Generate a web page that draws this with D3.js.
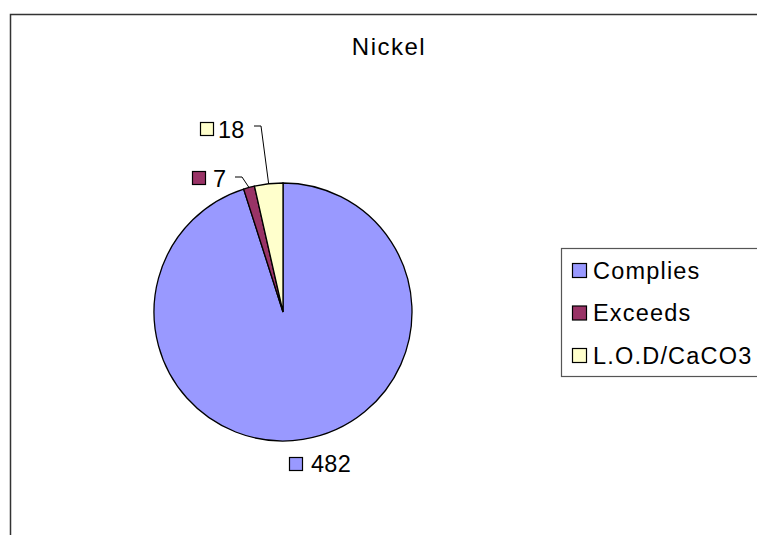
<!DOCTYPE html>
<html><head><meta charset="utf-8">
<script src="https://cdn.jsdelivr.net/npm/d3@7"></script>
<style>body{margin:0;background:#fff}svg{display:block}text{font-family:"Liberation Sans",Arial,sans-serif;fill:#000}</style>
</head><body>
<script>
const title = "Nickel";
const categories = ["Complies", "Exceeds", "L.O.D/CaCO3"];
const values = [482, 7, 18];
const colors = ["#9999FF", "#993366", "#FFFFCC"];

const W = 757, H = 535;
const svg = d3.select("body").append("svg").attr("width", W).attr("height", H);

svg.append("rect").attr("x", 10.5).attr("y", 14.5).attr("width", W + 10).attr("height", H + 10)
  .attr("fill", "#fff").attr("stroke", "#333").attr("stroke-width", 1.5);

svg.append("text").attr("x", 389).attr("y", 55).attr("text-anchor", "middle")
  .attr("font-size", 24).attr("letter-spacing", 1.5).text(title);

const cx = 283, cy = 312, r = 129;
const pie = d3.pie().sort(null).value(d => d)(values);
const arc = d3.arc().innerRadius(0).outerRadius(r);
const g = svg.append("g").attr("transform", `translate(${cx},${cy})`);
g.selectAll("path").data(pie).join("path")
  .attr("d", arc).attr("fill", (d, i) => colors[i])
  .attr("stroke", "#000").attr("stroke-width", 1.3);

// data labels
const labelPos = [
  {sx: 289, sy: 457, tx: 311, ty: 472, leader: null},
  {sx: 192, sy: 171, tx: 213, ty: 187, leader: [235, 177, 242, 177]},
  {sx: 200, sy: 122, tx: 218, ty: 138, leader: [254, 126, 261, 126]}
];
pie.forEach((d, i) => {
  const p = labelPos[i];
  svg.append("rect").attr("x", p.sx + 0.5).attr("y", p.sy + 0.5).attr("width", 13).attr("height", 13)
    .attr("fill", colors[i]).attr("stroke", "#000").attr("stroke-width", 1.2);
  svg.append("text").attr("x", p.tx).attr("y", p.ty).attr("font-size", 23.5).attr("letter-spacing", 0.3).text(values[i]);
  if (p.leader) {
    const mid = (d.startAngle + d.endAngle) / 2;
    const ex = cx + r * Math.sin(mid), ey = cy - r * Math.cos(mid);
    svg.append("polyline")
      .attr("points", `${p.leader[0]},${p.leader[1]} ${p.leader[2]},${p.leader[3]} ${ex},${ey}`)
      .attr("fill", "none").attr("stroke", "#000").attr("stroke-width", 1);
  }
});

// legend
svg.append("rect").attr("x", 561.5).attr("y", 248.5).attr("width", 200).attr("height", 128)
  .attr("fill", "#fff").attr("stroke", "#555").attr("stroke-width", 1.2);
const ly = d3.scalePoint().domain(categories).range([270, 355]);
categories.forEach((c, i) => {
  svg.append("rect").attr("x", 572.5).attr("y", ly(c) - 6.5).attr("width", 14).attr("height", 14)
    .attr("fill", colors[i]).attr("stroke", "#000").attr("stroke-width", 1.2);
  svg.append("text").attr("x", 593).attr("y", ly(c) + 8.5).attr("font-size", 23.5)
    .attr("letter-spacing", 1.2).text(c);
});
</script>
</body></html>
